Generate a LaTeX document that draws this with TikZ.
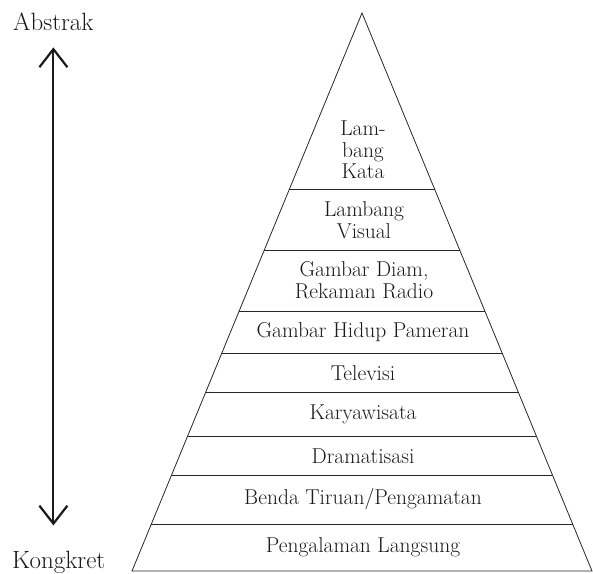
\documentclass[tikz,border=0pt]{standalone}
\usepackage{tikz}
\usetikzlibrary{arrows.meta,calc,positioning}

\begin{document}
\begin{tikzpicture}[x=1pt,y=-1pt,
  tingkat/.style={align=center,font=\fontsize{21.5}{21.5}\selectfont,text=black!90,inner sep=0pt},
  ujung/.style={tingkat,font=\fontsize{25}{25}\selectfont,anchor=base west},
  sisi/.style={draw=black!85,line width=0.8pt},
  panah/.style={{Straight Barb[length=18pt,width=28pt]}-{Straight Barb[length=18pt,width=28pt]},line width=2.2pt,draw=black!90}]
\useasboundingbox (0,0) rectangle (593,573);

% piramida
\coordinate (puncak) at (362,13);
\coordinate (kiri) at (132,571);
\coordinate (kanan) at (592,571);
\draw[sisi] (puncak) -- (kiri) -- (kanan) -- cycle;
\foreach \y in {189,250,311,353,392,436,475,524}
  \draw[sisi] ($(puncak)!{(\y-13)/558}!(kiri)$) -- ($(puncak)!{(\y-13)/558}!(kanan)$);

\node[tingkat] (kata) at (363,150) {Lam-\\bang\\Kata};
\node[tingkat] (visual) at (364,220) {Lambang\\Visual};
\node[tingkat] (diam) at (364,280) {Gambar Diam,\\Rekaman Radio};
\node[tingkat] (hidup) at (363,332) {Gambar Hidup Pameran};
\node[tingkat] (tv) at (363,373) {Televisi};
\node[tingkat] (wisata) at (363,414) {Karyawisata};
\node[tingkat] (drama) at (363,456) {Dramatisasi};
\node[tingkat] (benda) at (363,499) {Benda Tiruan/Pengamatan};
\node[tingkat] (langsung) at (363,547) {Pengalaman Langsung};

% sumbu abstrak - kongkret
\node[ujung] (abstrak) at (13,30) {Abstrak};
\node[ujung] (kongkret) at (12,568) {Kongkret};
\draw[panah] ([yshift=-17pt]abstrak.south) -- ([yshift=25pt]abstrak.south |- kongkret.north);
\end{tikzpicture}
\end{document}
